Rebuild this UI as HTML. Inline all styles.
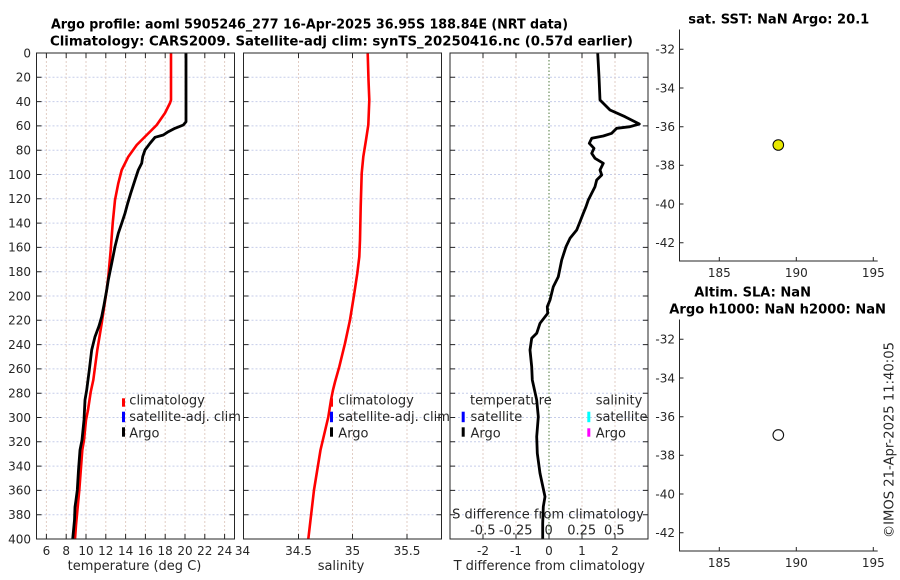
<!DOCTYPE html>
<html><head><meta charset="utf-8"><style>
html,body{margin:0;padding:0;background:#fff;}
svg{display:block;}
text{font-family:"DejaVu Sans","Liberation Sans",sans-serif;fill:#262626;}
.t{font-size:12px;}
.l{font-size:13px;}
.b{font-size:13px;font-weight:bold;fill:#000;}
</style></head><body>
<svg width="900" height="580" viewBox="0 0 900 580" xmlns="http://www.w3.org/2000/svg">
<defs>
<path id="hg" d="M0 77.3H198M0 101.6H198M0 125.9H198M0 150.2H198M0 174.5H198M0 198.8H198M0 223.1H198M0 247.4H198M0 271.7H198M0 296H198M0 320.3H198M0 344.6H198M0 368.9H198M0 393.2H198M0 417.5H198M0 441.8H198M0 466.1H198M0 490.4H198M0 514.7H198" fill="none" stroke="#c6cdea" stroke-width="1" stroke-dasharray="2,2"/>
<path id="yt" d="M0 77.3h5M0 101.6h5M0 125.9h5M0 150.2h5M0 174.5h5M0 198.8h5M0 223.1h5M0 247.4h5M0 271.7h5M0 296h5M0 320.3h5M0 344.6h5M0 368.9h5M0 393.2h5M0 417.5h5M0 441.8h5M0 466.1h5M0 490.4h5M0 514.7h5M198 77.3h-5M198 101.6h-5M198 125.9h-5M198 150.2h-5M198 174.5h-5M198 198.8h-5M198 223.1h-5M198 247.4h-5M198 271.7h-5M198 296h-5M198 320.3h-5M198 344.6h-5M198 368.9h-5M198 393.2h-5M198 417.5h-5M198 441.8h-5M198 466.1h-5M198 490.4h-5M198 514.7h-5" fill="none" stroke="#262626" stroke-width="1"/>
</defs>

<!-- Titles -->
<text class="b" x="51" y="28.5" textLength="517" lengthAdjust="spacingAndGlyphs">Argo profile: aoml 5905246_277 16-Apr-2025 36.95S 188.84E (NRT data)</text>
<text class="b" x="50" y="45.5" textLength="583" lengthAdjust="spacingAndGlyphs">Climatology: CARS2009. Satellite-adj clim: synTS_20250416.nc (0.57d earlier)</text>

<!-- ===== Panel 1 ===== -->
<g transform="translate(36.5,0)"><use href="#hg"/></g>
<path d="M46.4 53V539M66.2 53V539M86 53V539M105.8 53V539M125.6 53V539M145.4 53V539M165.2 53V539M185 53V539M204.8 53V539M224.6 53V539" stroke="#e2cdc4" stroke-width="1" stroke-dasharray="2,2" fill="none"/>
<g transform="translate(36.5,0)"><use href="#yt"/></g>
<path d="M46.4 53v5M66.2 53v5M86 53v5M105.8 53v5M125.6 53v5M145.4 53v5M165.2 53v5M185 53v5M204.8 53v5M224.6 53v5M46.4 539v-5M66.2 539v-5M86 539v-5M105.8 539v-5M125.6 539v-5M145.4 539v-5M165.2 539v-5M185 539v-5M204.8 539v-5M224.6 539v-5" stroke="#262626" fill="none"/>
<polyline fill="none" stroke="#ff0000" stroke-width="2.6" stroke-linejoin="round" points="171,53 171,100 170,103 165,113 156.7,125 146.7,135 136.7,145 128.3,156.7 121.7,170 118.3,183.3 115,200 112.7,223.3 110.7,250 108.3,276.7 106.7,290 101.7,323.3 97.3,350 93.3,380 90.7,392 88,410 86,420 84,440 82.3,450 79.3,490 77.7,507 76,525 75,539"/>
<polyline fill="none" stroke="#000" stroke-width="2.8" stroke-linejoin="round" points="186,53 186,121.7 183.3,125 175,128.3 168.3,131.7 163.3,135 155,137.3 150,143.3 145,150 142.7,156.7 141.7,163.3 138.3,170 135,180 130.7,193.3 127.7,203.3 125,213.3 121.7,223.3 118.3,233.3 115,246.7 111.7,263.3 108.3,280 106.7,290 104,305 101.7,316.7 99,326 95,336.7 91.7,350 89.3,370 86.7,390 85,400 84,420 82,440 80,450 78.5,470 77.3,490 76,500 75,507 74.5,520 72.7,539"/>
<rect x="36.5" y="53" width="198" height="486" fill="none" stroke="#262626" stroke-width="1"/>
<!-- legend 1 -->
<rect x="122" y="398.3" width="3" height="8.4" fill="#ff0000"/>
<rect x="122" y="411.7" width="3" height="10.5" fill="#0000ff"/>
<rect x="122" y="427.3" width="3" height="9.4" fill="#000"/>
<text class="l" x="129.3" y="404.5">climatology</text>
<text class="l" x="129.3" y="421">satellite-adj. clim</text>
<text class="l" x="129.3" y="437.5">Argo</text>
<!-- y labels -->
<g class="t" text-anchor="end">
<text x="31" y="57.3">0</text><text x="31" y="81.6">20</text><text x="31" y="105.9">40</text><text x="31" y="130.2">60</text><text x="31" y="154.5">80</text><text x="31" y="178.8">100</text><text x="31" y="203.1">120</text><text x="31" y="227.4">140</text><text x="31" y="251.7">160</text><text x="31" y="276">180</text><text x="31" y="300.3">200</text><text x="31" y="324.6">220</text><text x="31" y="348.9">240</text><text x="31" y="373.2">260</text><text x="31" y="397.5">280</text><text x="31" y="421.8">300</text><text x="31" y="446.1">320</text><text x="31" y="470.4">340</text><text x="31" y="494.7">360</text><text x="31" y="519">380</text><text x="31" y="543.3">400</text>
</g>
<g class="t" text-anchor="middle">
<text x="46.4" y="555">6</text><text x="66.2" y="555">8</text><text x="86" y="555">10</text><text x="105.8" y="555">12</text><text x="125.6" y="555">14</text><text x="145.4" y="555">16</text><text x="165.2" y="555">18</text><text x="185" y="555">20</text><text x="204.8" y="555">22</text><text x="224.6" y="555">24</text>
</g>
<text class="l" x="134.5" y="570" text-anchor="middle">temperature (deg C)</text>

<!-- ===== Panel 2 ===== -->
<g transform="translate(243.5,0)"><use href="#hg"/></g>
<path d="M298.5 53V539M352.5 53V539M407 53V539" stroke="#e2cdc4" stroke-width="1" stroke-dasharray="2,2" fill="none"/>
<g transform="translate(243.5,0)"><use href="#yt"/></g>
<path d="M298.5 53v5M352.5 53v5M407 53v5M298.5 539v-5M352.5 539v-5M407 539v-5" stroke="#262626" fill="none"/>
<polyline fill="none" stroke="#ff0000" stroke-width="2.6" stroke-linejoin="round" points="367.7,53 368.5,80 369.3,100 368.3,125 366,140 363.3,156.7 361.7,173.3 360.7,206.7 360,240 359.3,256.7 357.3,273.3 354.3,293.3 350,320 345,343.3 339.3,366.7 335,382 333,390 331,400 328.3,417 320.5,450 314,490 308.3,539"/>
<rect x="243.5" y="53" width="198" height="486" fill="none" stroke="#262626" stroke-width="1"/>
<rect x="330" y="398.3" width="3" height="8.4" fill="#ff0000"/>
<rect x="330" y="411.7" width="3" height="10.5" fill="#0000ff"/>
<rect x="330" y="427.3" width="3" height="9.4" fill="#000"/>
<text class="l" x="338.3" y="404.5">climatology</text>
<text class="l" x="338.3" y="421">satellite-adj. clim</text>
<text class="l" x="338.3" y="437.5">Argo</text>
<g class="t" text-anchor="middle">
<text x="242.5" y="555">34</text><text x="298.5" y="555">34.5</text><text x="352.5" y="555">35</text><text x="407" y="555">35.5</text>
</g>
<text class="l" x="341" y="570" text-anchor="middle">salinity</text>

<!-- ===== Panel 3 ===== -->
<g transform="translate(450,0)"><use href="#hg"/></g>
<path d="M483 53V539M516 53V539M582 53V539M615 53V539" stroke="#e2cdc4" stroke-width="1" stroke-dasharray="2,2" fill="none"/>
<path d="M549 53V539" stroke="#4f7a3c" stroke-width="1" stroke-dasharray="1.5,2" fill="none"/>
<g transform="translate(450,0)"><use href="#yt"/></g>
<path d="M483 53v5M516 53v5M549 53v5M582 53v5M615 53v5M483 539v-5M516 539v-5M549 539v-5M582 539v-5M615 539v-5" stroke="#262626" fill="none"/>
<!-- legend 3 text (under curve) -->
<text class="l" x="470" y="404.5">temperature</text>
<text class="l" x="470.5" y="421">satellite</text>
<text class="l" x="470.5" y="437.5">Argo</text>
<text class="l" x="595.7" y="404.5">salinity</text>
<text class="l" x="595.7" y="421">satellite</text>
<text class="l" x="595.7" y="437.5">Argo</text>
<rect x="461.7" y="411.7" width="3" height="10.5" fill="#0000ff"/>
<rect x="461.7" y="427.3" width="3" height="9.4" fill="#000"/>
<rect x="587.3" y="411.7" width="3" height="10.5" fill="#00ffff"/>
<rect x="587.3" y="428.3" width="3" height="8.4" fill="#ff00ff"/>
<text class="l" x="548" y="518.5" text-anchor="middle">S difference from climatology</text>
<g class="l" text-anchor="middle">
<text x="482.8" y="534.5">-0.5</text><text x="515.7" y="534.5">-0.25</text><text x="548.7" y="534.5">0</text><text x="581.7" y="534.5">0.25</text><text x="614.3" y="534.5">0.5</text>
</g>
<polyline fill="none" stroke="#000" stroke-width="2.8" stroke-linejoin="round" points="597.7,53 599,76.7 600,100 610,110 625,116.7 639.3,124 630,126.7 616.7,128.3 611.7,133.3 603.3,136 591.7,138.3 589.3,143.3 594,148.3 591.7,153.3 595,158.3 603.3,163.3 600,170 601.7,175 596.7,180 595,186.7 591.7,193.3 588.3,200 586,206.7 583.3,213.3 580,221.7 576.7,230 570,238.3 566,246.7 561.7,260 558.3,276.7 553.3,286.7 550,300 547.3,306.7 547.7,313.3 540,323.3 536.7,333.3 531.7,338.3 530,350 531.7,366.7 532.3,380 536.7,400 538.3,416.7 536.7,436.7 537.3,453.3 540,473.3 545,496.7 543.3,506.7 542.7,523.3 542.7,539"/>
<rect x="450" y="53" width="198" height="486" fill="none" stroke="#262626" stroke-width="1"/>
<g class="t" text-anchor="middle">
<text x="483" y="555">-2</text><text x="516" y="555">-1</text><text x="549" y="555">0</text><text x="582" y="555">1</text><text x="615" y="555">2</text>
</g>
<text class="l" x="549.3" y="570" text-anchor="middle">T difference from climatology</text>

<!-- ===== Right top map ===== -->
<text class="b" x="688.3" y="23.3" textLength="181" lengthAdjust="spacingAndGlyphs">sat. SST: NaN Argo: 20.1</text>
<path d="M679.5 29.5V261H877.7" fill="none" stroke="#262626" stroke-width="1"/>
<path d="M679.5 49.3h4M679.5 88h4M679.5 126.7h4M679.5 165.3h4M679.5 204h4M679.5 242.7h4M719.3 261v-4M796.3 261v-4M873.3 261v-4" stroke="#262626" fill="none"/>
<g class="t" text-anchor="end">
<text x="675" y="53.6">-32</text><text x="675" y="92.3">-34</text><text x="675" y="131">-36</text><text x="675" y="169.6">-38</text><text x="675" y="208.3">-40</text><text x="675" y="247">-42</text>
</g>
<g class="t" text-anchor="middle">
<text x="719.3" y="277">185</text><text x="796.3" y="277">190</text><text x="873.3" y="277">195</text>
</g>
<circle cx="778.3" cy="145" r="5.3" fill="#e8e800" stroke="#000" stroke-width="1"/>

<!-- ===== Right bottom map ===== -->
<text class="b" x="694.3" y="296.7" textLength="116.7" lengthAdjust="spacingAndGlyphs">Altim. SLA: NaN</text>
<text class="b" x="669.3" y="313.3" textLength="216.7" lengthAdjust="spacingAndGlyphs">Argo h1000: NaN h2000: NaN</text>
<path d="M679.5 319.5V551H877.7" fill="none" stroke="#262626" stroke-width="1"/>
<path d="M679.5 339.3h4M679.5 378h4M679.5 416.7h4M679.5 455.3h4M679.5 494h4M679.5 532.7h4M719.3 551v-4M796.3 551v-4M873.3 551v-4" stroke="#262626" fill="none"/>
<g class="t" text-anchor="end">
<text x="675" y="343.6">-32</text><text x="675" y="382.3">-34</text><text x="675" y="421">-36</text><text x="675" y="459.6">-38</text><text x="675" y="498.3">-40</text><text x="675" y="537">-42</text>
</g>
<g class="t" text-anchor="middle">
<text x="719.3" y="567">185</text><text x="796.3" y="567">190</text><text x="873.3" y="567">195</text>
</g>
<circle cx="778.3" cy="435" r="5.3" fill="none" stroke="#111" stroke-width="1.1"/>

<text class="l" transform="translate(893.5,538) rotate(-90)" textLength="196" lengthAdjust="spacingAndGlyphs">©IMOS 21-Apr-2025 11:40:05</text>
</svg>
</body></html>
